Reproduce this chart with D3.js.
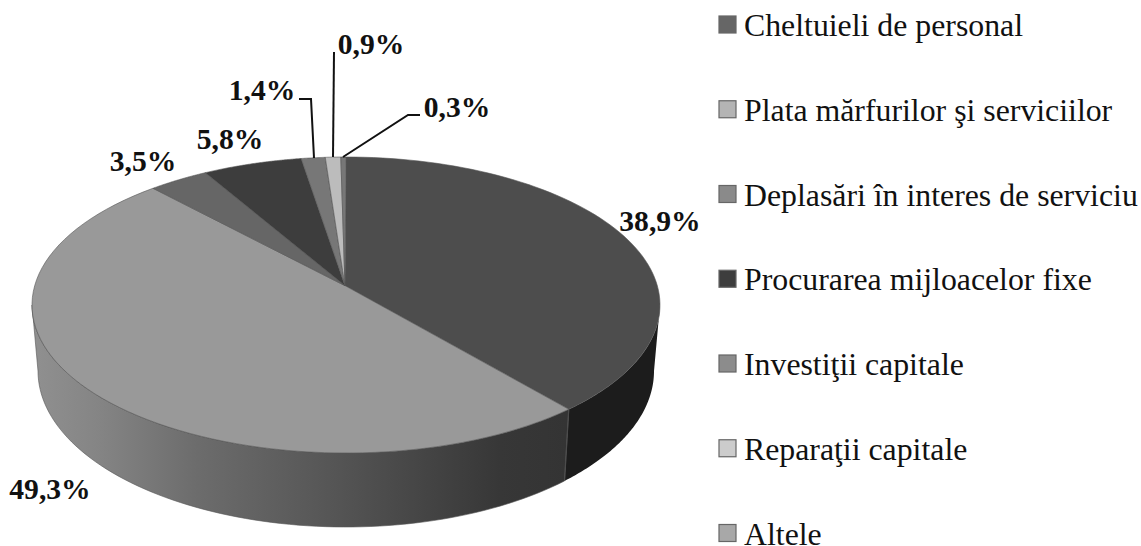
<!DOCTYPE html>
<html><head><meta charset="utf-8">
<script src="https://cdn.jsdelivr.net/npm/d3@7"></script>
<style>html,body{margin:0;background:#fff}svg{display:block}text{font-family:"Liberation Serif",serif;fill:#111}</style>
</head><body><svg id="c" width="1141" height="546"></svg>
<script>
const categories=["Cheltuieli de personal","Plata mărfurilor şi serviciilor","Deplasări în interes de serviciu","Procurarea mijloacelor fixe","Investiţii capitale","Reparaţii capitale","Altele"];
const values=[38.9,49.3,3.5,5.8,1.4,0.9,0.3];
const labels=["38,9%","49,3%","3,5%","5,8%","1,4%","0,9%","0,3%"];
const topColors=["#4d4d4d","#999999","#666666","#3d3d3d","#777777","#bcbcbc","#777777"];
const swatchColors=["#666666","#b4b4b4","#8a8a8a","#3d3d3d","#8c8c8c","#cccccc","#a8a8a8"];
const labelAt=[[660,221],[50,489],[143,161],[230,139],[262,90],[371,44],[457,107]];
const leaders=[null,null,null,null,[[299,99],[311,99],[314,158]],[[334,52],[333,157]],[[420,115],[408,115],[343,157]]];

const svg=d3.select("#c");
const W={cx:346,cy:305,rx:314,ry:148}, B={cx:346,cy:371,rx:308,ry:156};
const K=0.877;
// Perspective: a circle's angle seen on the tilted ellipse
const warp=a=>{let s=a>Math.PI?-1:1;let p=a>Math.PI?2*Math.PI-a:a;
  const q=(p>=Math.PI-1e-9)?Math.PI:2*Math.atan(K*Math.tan(p/2));
  return s>0?q:2*Math.PI-q;};
const pie=d3.pie().sort(null).value(d=>d)(values).map(d=>({...d,a0:warp(d.startAngle),a1:warp(d.endAngle)}));
const pt=(E,a)=>[E.cx+E.rx*Math.sin(a),E.cy-E.ry*Math.cos(a)];
const apex=[W.cx-1,W.cy-W.ry*(1-K*K)/(1+K*K)];

const defs=svg.append("defs");
const g=defs.append("linearGradient").attr("id","side2").attr("gradientUnits","userSpaceOnUse").attr("x1",32).attr("x2",567).attr("y1",0).attr("y2",0);
[[0,"#909090"],[.12,"#858585"],[.31,"#6c6c6c"],[.576,"#545454"],[.875,"#373737"],[1,"#343434"]].forEach(s=>g.append("stop").attr("offset",s[0]).attr("stop-color",s[1]));

const line=d3.line();
const samples=(a0,a1)=>d3.range(0,81).map(i=>a0+(a1-a0)*i/80);
function sidePath(a0,a1){
  const n=samples(a0,a1);
  return line([...n.map(a=>pt(W,a)),...n.slice().reverse().map(a=>pt(B,a))])+"Z";
}
// Front wall
const seam=pie[0].a1;
svg.append("path").attr("d",sidePath(Math.PI/2,seam)).attr("fill","#1c1c1c");
svg.append("path").attr("d",sidePath(seam,3*Math.PI/2)).attr("fill","url(#side2)").attr("stroke","#555").attr("stroke-width",.6);
svg.append("path").attr("d",line([pt(W,seam),pt(B,seam)])).attr("stroke","#4c4c4c").attr("stroke-width",1.2).attr("fill","none");

// Top face
svg.append("g").selectAll("path").data(pie).join("path")
  .attr("d",d=>line([apex,...samples(d.a0,d.a1).map(a=>pt(W,a))])+"Z")
  .attr("fill",(d,i)=>topColors[i])
  .attr("stroke","#555").attr("stroke-width",.6);

// Leaders
svg.append("g").selectAll("path").data(leaders.filter(Boolean)).join("path")
  .attr("d",d=>line(d)).attr("fill","none").attr("stroke","#111").attr("stroke-width",2);

// Data labels
svg.append("g").selectAll("text").data(labels).join("text")
  .attr("x",(d,i)=>labelAt[i][0]).attr("y",(d,i)=>labelAt[i][1]).attr("text-anchor","middle").attr("dy","0.35em")
  .attr("font-size",29.6).attr("font-weight","bold").text(d=>d);

// Legend
const ly=d3.scalePoint().domain(categories).range([25,533.5]);
const leg=svg.append("g").selectAll("g").data(categories).join("g").attr("transform",d=>`translate(0,${ly(d)})`);
leg.append("rect").attr("x",719).attr("y",-9).attr("width",17).attr("height",17).attr("fill",(d,i)=>swatchColors[i]).attr("stroke","#666").attr("stroke-width",1.2);
leg.append("text").attr("x",744).attr("y",11).attr("font-size",31.8).text(d=>d);
</script></body></html>
